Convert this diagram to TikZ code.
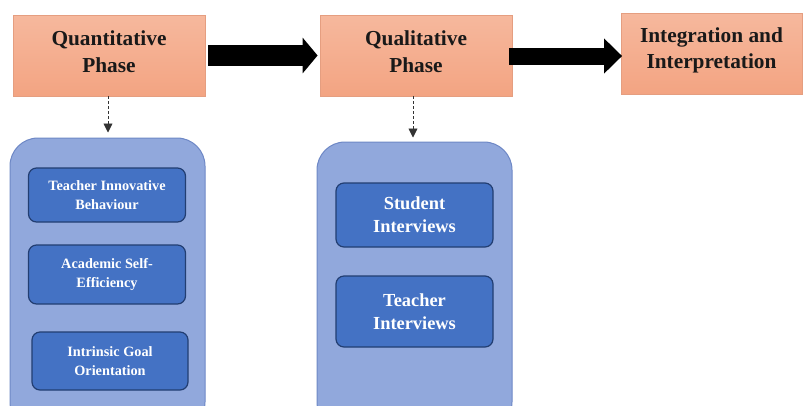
\documentclass[tikz,border=0pt]{standalone}
\usepackage{fontspec}
\setmainfont{Liberation Serif}
\usetikzlibrary{arrows.meta}
\def\px{0.75pt}
\definecolor{phasetop}{HTML}{F6B89D}
\definecolor{phasebot}{HTML}{F3A482}
\definecolor{phaseline}{HTML}{E59E80}
\definecolor{groupfill}{HTML}{91A8DC}
\definecolor{groupline}{HTML}{6E88C6}
\definecolor{itemfill}{HTML}{4472C4}
\definecolor{itemline}{HTML}{223E72}
\tikzset{
  phase/.style={draw=phaseline, line width=0.8*\px, top color=phasetop, bottom color=phasebot,
    inner sep=0pt, minimum height=81*\px},
  phasetext/.style={text=black!90, font=\bfseries\fontsize{16}{20}\selectfont, align=center,
    inner sep=0pt},
  group/.style={draw=groupline, line width=1*\px, fill=groupfill, rounded corners=28*\px,
    inner sep=0pt, minimum width=195*\px},
  item/.style={draw=itemline, line width=1.2*\px, fill=itemfill, rounded corners=8*\px,
    text=white, align=center, inner sep=0pt, minimum width=157*\px},
  smallitem/.style={item, font=\bfseries\fontsize{10.7}{14.3}\selectfont},
  bigitem/.style={item, font=\bfseries\fontsize{13.8}{17}\selectfont},
  dashlink/.style={draw=black!80, line width=0.9*\px, dash pattern=on 3*\px off 2*\px,
    -{Triangle[length=9*\px,width=9*\px]}}
}
\begin{document}
\begin{tikzpicture}[x=\px, y=-\px]
\clip (0,0) rectangle (804,405);
\fill[white] (0,0) rectangle (804,405);

% phases along the top
\node[phase, minimum width=192*\px] (quant) at (109,55.5) {};
\node[phase, minimum width=192*\px] (qual) at (416,55.5) {};
\node[phase, minimum width=181*\px] (integ) at (711.5,53.5) {};
\node[phasetext] (quanttxt) at ([yshift=4*\px]quant.center) {Quantitative\\Phase};
\node[phasetext] (qualtxt) at ([yshift=4*\px]qual.center) {Qualitative\\Phase};
\node[phasetext] (integtxt) at ([yshift=3*\px]integ.center) {Integration and\\Interpretation};

% thick flow arrows between phases
\draw[line width=21*\px, -{Triangle[length=15*\px,width=35*\px]}]
  ([xshift=3*\px]quant.east) -- ([xshift=-2*\px]qual.west);
\draw[line width=17*\px, -{Triangle[length=18*\px,width=34*\px]}]
  ([xshift=-3*\px,yshift=-0.5*\px]qual.east) -- ([xshift=1.5*\px,yshift=-0.5*\px]qual.east -| integ.west);

% grouping panels
\node[group, minimum height=292*\px] (qgroup) at (107.5,284) {};
\node[group, minimum height=288*\px] (lgroup) at (414.5,286) {};

% dashed links from phases to their panels
\draw[dashlink] ([xshift=-1*\px]quant.south) -- ([xshift=-1*\px,yshift=5*\px]quant.south |- qgroup.north);
\draw[dashlink] ([xshift=-3*\px]qual.south) -- ([xshift=-3*\px,yshift=4*\px]qual.south |- lgroup.north);

% quantitative measures
\node[smallitem, minimum height=54*\px] (tib) at (107,195) {Teacher Innovative\\Behaviour};
\node[smallitem, minimum height=59*\px] (ase) at (107,274.5) {Academic Self-\\Efficiency};
\node[smallitem, minimum width=156*\px, minimum height=58*\px] (igo) at (110,361) {Intrinsic Goal\\Orientation};

% qualitative sources
\node[bigitem, minimum height=64*\px] (si) at (414.5,215) {Student\\Interviews};
\node[bigitem, minimum height=71*\px] (ti) at (414.5,311.5) {Teacher\\Interviews};
\end{tikzpicture}
\end{document}
